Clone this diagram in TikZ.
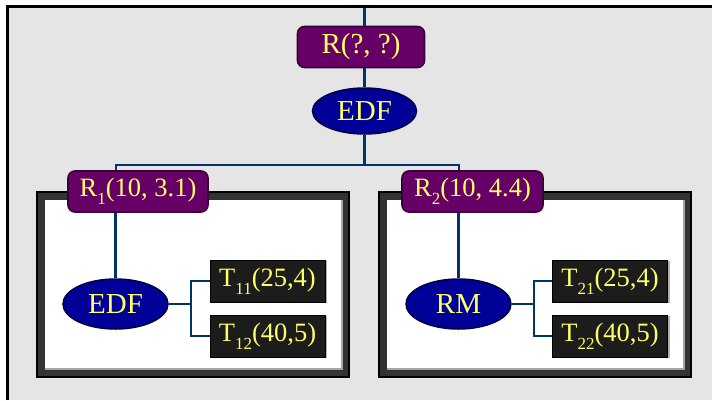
\documentclass[tikz,border=0pt]{standalone}
\usepackage{fontspec}
\setmainfont{Liberation Serif}
\usetikzlibrary{shapes.geometric}
\definecolor{pagegray}{HTML}{E5E5E5}
\definecolor{plum}{HTML}{660066}
\definecolor{plumedge}{HTML}{3A003A}
\definecolor{navy}{HTML}{000099}
\definecolor{navyedge}{HTML}{000040}
\definecolor{wire}{HTML}{003366}
\definecolor{txt}{HTML}{FFFF66}
\definecolor{taskfill}{HTML}{1C1C1C}
\definecolor{frame}{HTML}{333333}
\newcommand\lowidx[1]{\raisebox{-0.3em}{\fontsize{17}{17}\selectfont #1}}
\tikzset{
  resbox/.style={rectangle, rounded corners=7pt, fill=plum, draw=plumedge, line width=1.6pt,
    minimum height=41pt, inner sep=0pt, text=txt, font=\fontsize{26.5}{28}\selectfont},
  sched/.style={ellipse, fill=navy, draw=navyedge, line width=1.5pt, inner sep=0pt,
    minimum width=105pt, minimum height=50pt, text=txt, font=\fontsize{29}{30}\selectfont},
  taskbox/.style={rectangle, fill=taskfill, draw=black, line width=0.8pt, minimum width=115pt,
    minimum height=42pt, inner sep=0pt, text=txt, font=\fontsize{26.5}{28}\selectfont},
  trunk/.style={draw=wire, line width=3pt},
  branch/.style={draw=wire, line width=2pt},
}
\begin{document}
\begin{tikzpicture}[x=1pt,y=-1pt]
\useasboundingbox (0,0) rectangle (712,400);
\fill[white] (0,0) rectangle (712,400);
% page background and its top/left border
\fill[pagegray] (8,7) rectangle (712,400);
\draw[black, line width=3pt] (7.5,400) -- (7.5,6.5) -- (712,6.5);

% two component containers
\foreach \xa/\xb in {36/350, 378/692} {
  \fill[black] (\xa,191) rectangle (\xb,378);
  \fill[frame] (\xa+2,193) rectangle (\xb-2,376);
  \fill[white] (\xa+9,200) rectangle (\xb-7,370);
  \draw[gray!70, line width=2.5pt] (\xa+9,369) -- (\xb-8,369) -- (\xb-8,200);
}

% top level
\coordinate (entry) at (364,8);
\node[resbox, minimum width=127pt, font=\fontsize{29}{30}\selectfont] (R) at (361,47) {R(?, ?)};
\node[sched, minimum width=104pt, minimum height=46pt] (E) at (364.5,111) {EDF};

% servers
\node[resbox, minimum width=140pt] (R1) at (138,191.5) {R\lowidx{1}(10, 3.1)};
\node[resbox, minimum width=141pt] (R2) at (472.5,191.5) {R\lowidx{2}(10, 4.4)};

% local schedulers
\node[sched] (E1) at (115.5,304) {EDF};
\node[sched] (E2) at (458.5,304) {RM};

% tasks, each with a grey drop edge
\foreach \n/\x/\y/\lbl in {T11/267.5/281/{T\lowidx{11}(25,4)}, T12/267.5/336/{T\lowidx{12}(40,5)},
                            T21/610/281/{T\lowidx{21}(25,4)}, T22/610/336/{T\lowidx{22}(40,5)}} {
  \draw[gray!60, line width=2pt] (\x-56.5,\y+21) -- (\x+58.5,\y+21) -- (\x+58.5,\y-20);
  \node[taskbox] (\n) at (\x,\y) {\lbl};
}

% split point of the top-level connector and the task forks
\coordinate (split) at (364,165);
\coordinate (b1) at ([xshift=22pt]E1.east);
\coordinate (b2) at ([xshift=22pt]E2.east);

% connectors
\draw[trunk] (entry) -- (entry |- R.north);
\draw[trunk] (R.south -| entry) -- (E.north -| entry);
\draw[trunk] (E.south -| entry) -- (split);
\draw[branch] (R1.north -| E1.north) |- (split) -| (R2.north -| E2.north);
\draw[trunk] (R1.south -| E1.north) -- (E1.north);
\draw[trunk] (R2.south -| E2.north) -- (E2.north);
\draw[branch] (E1.east) -- (b1);
\draw[branch] (T11.west) -| (b1) |- (T12.west);
\draw[branch] (E2.east) -- (b2);
\draw[branch] (T21.west) -| (b2) |- (T22.west);
\end{tikzpicture}
\end{document}
